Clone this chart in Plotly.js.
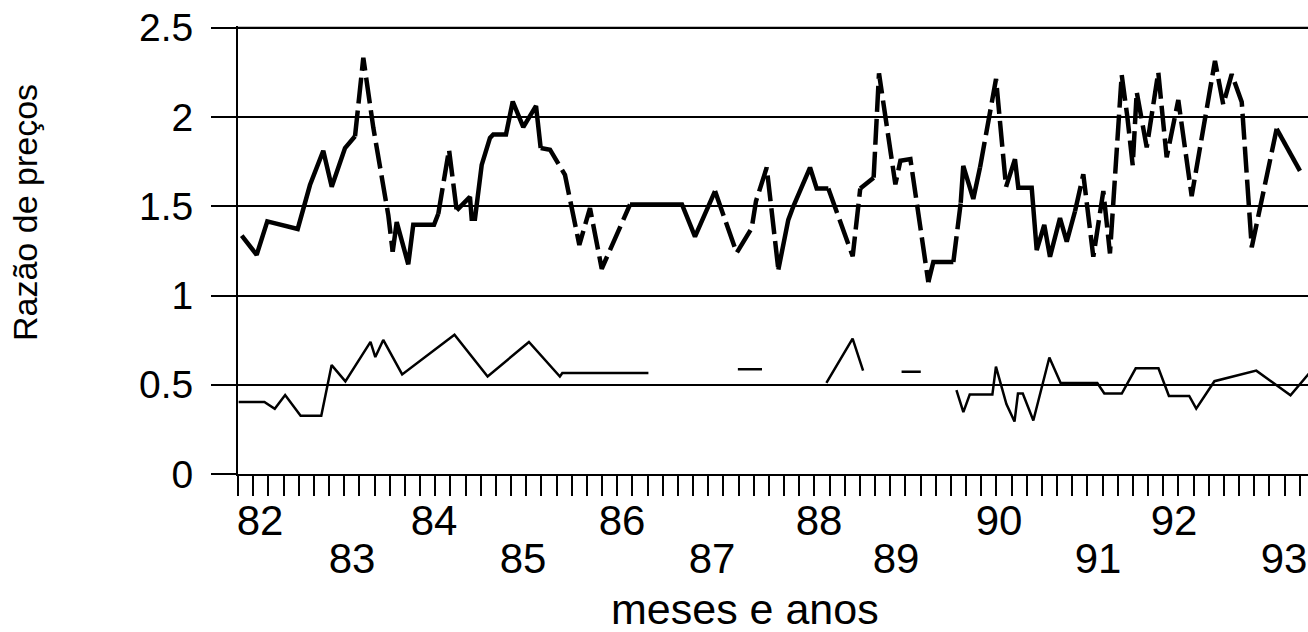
<!DOCTYPE html>
<html>
<head>
<meta charset="utf-8">
<script src="https://cdn.plot.ly/plotly-3.0.1.min.js"></script>
<style>html,body{margin:0;padding:0;background:#fff;}#chart{width:1308px;height:632px;}</style>
</head>
<body>
<div id="chart"></div>
<script>
// ---- data (x in decimal years, 82 = 1982) ----
const upperX = [82.041, 82.205, 82.322, 82.656, 82.791, 82.937, 83.030, 83.176, 83.286, 83.377,
  83.487, 83.652, 83.700, 83.744, 83.871, 83.926, 84.154, 84.201, 84.319, 84.403,
  84.549, 84.568, 84.604, 84.678, 84.769, 84.805, 84.945, 85.019, 85.135, 85.275,
  85.326, 85.429, 85.593, 85.751, 85.868, 85.997, 86.308, 86.879, 87.022, 87.242,
  87.480, 87.645, 87.692, 87.810, 87.938, 88.047, 88.103, 88.286, 88.359, 88.487,
  88.755, 88.838, 88.985, 89.044, 89.224, 89.279, 89.389, 89.586, 89.641, 89.861,
  89.942, 89.970, 90.080, 90.154, 90.330, 90.440, 90.538, 90.575, 90.722, 90.777,
  90.860, 90.923, 91.033, 91.107, 91.198, 91.289, 91.399, 91.509, 91.582, 91.711,
  91.772, 91.832, 91.876, 91.986, 92.113, 92.205, 92.333, 92.480, 92.736, 92.827,
  92.920, 93.030, 93.140, 93.212, 93.414, 93.670];
const upperY = [1.336, 1.228, 1.415, 1.373, 1.619, 1.811, 1.609, 1.826, 1.892, 2.332,
  1.94, 1.449, 1.245, 1.411, 1.175, 1.396, 1.396, 1.458, 1.817, 1.477,
  1.553, 1.43, 1.43, 1.732, 1.883, 1.902, 1.902, 2.087, 1.943, 2.062,
  1.826, 1.817, 1.676, 1.283, 1.49, 1.15, 1.51, 1.51, 1.33, 1.585,
  1.239, 1.377, 1.528, 1.717, 1.145, 1.424, 1.5, 1.717, 1.6, 1.6,
  1.22, 1.6, 1.66, 2.245, 1.623, 1.755, 1.764, 1.075, 1.188, 1.188,
  1.519, 1.726, 1.541, 1.717, 2.213, 1.609, 1.764, 1.604, 1.604, 1.254,
  1.396, 1.217, 1.434, 1.302, 1.472, 1.679, 1.217, 1.585, 1.236, 2.236,
  2.006, 1.73, 2.14, 1.83, 2.251, 1.774, 2.095, 1.557, 2.315, 2.07,
  2.24, 2.085, 1.27, 1.443, 1.934, 1.698];
// periods where the upper series is drawn dashed
const dashedSpans = [[83.286, 83.700], [84.201, 84.403], [85.326, 86.308], [87.242, 87.938],
  [88.487, 88.838], [88.985, 89.586], [89.861, 89.942], [90.154, 90.440], [91.198, 93.414]];

const lowerX = [82.007, 82.290, 82.404, 82.518, 82.688, 82.915, 83.029, 83.180, 83.456, 83.509,
  83.596, 83.804, 84.379, 84.743, 85.197, 85.537, 85.564, 86.510, null,
  87.493, 87.758, null,
  88.466, 88.754, 88.869, null,
  89.292, 89.503, null,
  89.895, 89.971, 90.041, 90.290, 90.329, 90.444, 90.533, 90.571, 90.624, 90.740,
  90.916, 91.040, 91.443, 91.520, 91.712, 91.865, 92.115, 92.230, 92.453, 92.530,
  92.730, 93.190, 93.566, 93.769];
const lowerY = [0.403, 0.403, 0.365, 0.442, 0.326, 0.326, 0.61, 0.519, 0.74, 0.655,
  0.751, 0.558, 0.78, 0.546, 0.74, 0.546, 0.566, 0.566, null,
  0.587, 0.587, null,
  0.51, 0.759, 0.579, null,
  0.573, 0.573, null,
  0.47, 0.347, 0.445, 0.445, 0.602, 0.392, 0.294, 0.451, 0.451, 0.3,
  0.653, 0.51, 0.51, 0.451, 0.451, 0.592, 0.592, 0.437, 0.437, 0.366,
  0.52, 0.579, 0.441, 0.563];

const row1Vals = [82.242, 84.154, 86.220, 88.385, 90.363, 92.286];
const row1Text = ['82', '84', '86', '88', '90', '92'];
const row2Vals = [83.253, 85.132, 87.209, 89.231, 91.451, 93.495];
const row2Text = ['83', '85', '87', '89', '91', '93'];
const yTickVals = [0, 0.5, 1, 1.5, 2, 2.5];
const yTickText = ['0', '0.5', '1', '1.5', '2', '2.5'];
const yTitle = 'Razão de preços';
const xTitle = 'meses e anos';

// ---- split upper series into solid / dashed runs ----
function splitRuns(xs, ys, spans) {
  const isDash = i => { const m = (xs[i] + xs[i + 1]) / 2; return spans.some(s => m >= s[0] && m <= s[1]); };
  const solid = {x: [], y: []}, dash = {x: [], y: []};
  let prev = null;
  for (let i = 0; i < xs.length - 1; i++) {
    const d = isDash(i);
    const t = d ? dash : solid;
    if (prev !== d) {
      if (t.x.length) { t.x.push(null); t.y.push(null); }
      t.x.push(xs[i]); t.y.push(ys[i]);
    }
    t.x.push(xs[i + 1]); t.y.push(ys[i + 1]);
    prev = d;
  }
  return {solid, dash};
}
const runs = splitRuns(upperX, upperY, dashedSpans);

const W = 1308, H = 632, ML = 238, MR = 0, MT = 26, MB = 158;
const xRange = [82, 82 + (W - ML - MR) / 91];
const yRange = [0, 2.51];
const font = 'Liberation Sans, Arial, Helvetica, sans-serif';
const PH = H - MT - MB;

const traces = [
  {x: lowerX, y: lowerY, type: 'scatter', mode: 'lines', connectgaps: false,
   line: {color: '#000', width: 2.5}, hoverinfo: 'skip'},
  {x: runs.solid.x, y: runs.solid.y, type: 'scatter', mode: 'lines', connectgaps: false,
   line: {color: '#000', width: 4.5}, hoverinfo: 'skip'},
  {x: runs.dash.x, y: runs.dash.y, type: 'scatter', mode: 'lines', connectgaps: false,
   line: {color: '#000', width: 4.5, dash: '26px,7px'}, hoverinfo: 'skip'},
  {x: [row2Vals[0]], y: [null], xaxis: 'x2', type: 'scatter', mode: 'lines', hoverinfo: 'skip'}
];

const layout = {
  width: W, height: H,
  margin: {l: ML, r: MR, t: MT, b: MB, pad: 0},
  paper_bgcolor: '#fff', plot_bgcolor: '#fff',
  showlegend: false,
  font: {family: font, color: '#000'},
  xaxis: {
    range: xRange, showline: true, linecolor: '#000', linewidth: 2,
    showgrid: false, zeroline: false,
    tickmode: 'array', tickvals: row1Vals, ticktext: row1Text,
    ticks: 'outside', ticklen: 5, tickwidth: 2, tickcolor: 'rgba(0,0,0,0)',
    tickfont: {size: 42, family: font, color: '#000'},
    ticklabelstandoff: 4, ticklabeloverflow: 'allow',
    minor: {tickmode: 'linear', tick0: 82, dtick: 1 / 6, ticks: 'outside', ticklen: 20,
            tickwidth: 2, tickcolor: '#000', showgrid: false}
  },
  xaxis2: {
    range: xRange, overlaying: 'x', side: 'bottom', anchor: 'y',
    showline: false, showgrid: false, zeroline: false,
    tickmode: 'array', tickvals: row2Vals, ticktext: row2Text, ticks: '',
    tickfont: {size: 42, family: font, color: '#000'},
    ticklabelstandoff: 56, ticklabeloverflow: 'allow'
  },
  yaxis: {
    range: yRange, showline: true, linecolor: '#000', linewidth: 2,
    showgrid: true, gridcolor: '#000', gridwidth: 2, zeroline: false,
    tickmode: 'array', tickvals: yTickVals, ticktext: yTickText,
    ticks: 'outside', ticklen: 25, tickwidth: 2, tickcolor: '#000',
    tickfont: {size: 39, family: font, color: '#000'}, ticklabelstandoff: 10
  },
  shapes: [
    {type: 'line', xref: 'paper', yref: 'y', x0: 0, x1: 1, y0: yTickVals[yTickVals.length - 1],
     y1: yTickVals[yTickVals.length - 1], line: {color: '#000', width: 2}, layer: 'below'}
  ],
  annotations: [
    {text: yTitle, xref: 'paper', yref: 'paper', x: (25 - ML) / (W - ML - MR), y: (H - MB - 213) / PH,
     textangle: -90, showarrow: false, xanchor: 'center', yanchor: 'middle',
     font: {size: 34, family: font, color: '#000'}},
    {text: xTitle, xref: 'paper', yref: 'paper', x: (745 - ML) / (W - ML - MR), y: (H - MB - 608.5) / PH,
     showarrow: false, xanchor: 'center', yanchor: 'middle',
     font: {size: 43, family: font, color: '#000'}}
  ]
};

Plotly.newPlot('chart', traces, layout, {displayModeBar: false, staticPlot: true});
</script>
</body>
</html>
